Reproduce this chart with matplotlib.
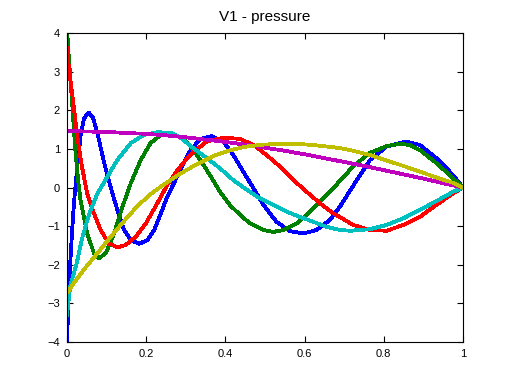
import matplotlib
matplotlib.use("Agg")
import matplotlib.pyplot as plt

# values
x_blue = [0, 0.004, 0.008, 0.013, 0.018, 0.026, 0.035, 0.043, 0.055, 0.066, 0.077, 0.094,
          0.110, 0.127, 0.144, 0.161, 0.182, 0.203, 0.220, 0.237, 0.253, 0.270, 0.285,
          0.311, 0.336, 0.365, 0.395, 0.420, 0.445, 0.471, 0.496, 0.529, 0.563, 0.597,
          0.630, 0.664, 0.689, 0.723, 0.765, 0.807, 0.857, 0.891, 0.933, 0.975, 1.0]
y_blue = [-3.95, -2.9, -2.0, -1.1, -0.35, 0.54, 1.40, 1.79, 1.94, 1.80, 1.40, 0.63,
          0.02, -0.58, -1.10, -1.36, -1.46, -1.36, -1.10, -0.67, -0.24, 0.11, 0.45,
          0.95, 1.25, 1.33, 1.19, 0.84, 0.41, -0.02, -0.45, -0.89, -1.13, -1.19,
          -1.10, -0.84, -0.50, 0.05, 0.71, 1.06, 1.19, 1.10, 0.76, 0.32, 0.0]

x_green = [0, 0.005, 0.013, 0.021, 0.029, 0.034, 0.051, 0.068, 0.081, 0.098, 0.119, 0.140,
           0.161, 0.186, 0.211, 0.237, 0.262, 0.295, 0.311, 0.336, 0.361, 0.386, 0.411,
           0.437, 0.462, 0.496, 0.521, 0.546, 0.580, 0.614, 0.647, 0.664, 0.681, 0.723,
           0.765, 0.807, 0.841, 0.866, 0.891, 0.933, 0.975, 1.0]
y_green = [4.1, 3.3, 2.18, 0.97, 0.1, -0.32, -1.19, -1.70, -1.83, -1.70, -1.19, -0.50,
           0.11, 0.71, 1.15, 1.36, 1.40, 1.27, 1.08, 0.72, 0.32, -0.11, -0.45,
           -0.71, -0.93, -1.10, -1.15, -1.10, -0.93, -0.63, -0.28, -0.10, 0.08, 0.55,
           0.90, 1.07, 1.13, 1.10, 0.97, 0.63, 0.24, 0.0]

x_red = [0, 0.007, 0.015, 0.025, 0.036, 0.051, 0.068, 0.085, 0.106, 0.127, 0.148, 0.174,
         0.199, 0.228, 0.253, 0.279, 0.304, 0.321, 0.353, 0.395, 0.437, 0.471, 0.504,
         0.538, 0.572, 0.605, 0.639, 0.673, 0.723, 0.765, 0.807, 0.849, 0.891, 0.933,
         0.975, 1.0]
y_red = [3.6, 2.9, 2.27, 1.40, 0.63, -0.15, -0.67, -1.10, -1.45, -1.55, -1.49, -1.27,
         -0.93, -0.41, 0.06, 0.45, 0.76, 0.93, 1.19, 1.29, 1.26, 1.10, 0.84,
         0.54, 0.19, -0.11, -0.41, -0.67, -0.97, -1.10, -1.12, -0.97, -0.76, -0.45,
         -0.15, 0.0]

x_cyan = [0, 0.008, 0.024, 0.038, 0.055, 0.077, 0.102, 0.127, 0.161, 0.194, 0.228, 0.262,
          0.285, 0.319, 0.353, 0.386, 0.420, 0.454, 0.487, 0.521, 0.555, 0.588, 0.622,
          0.656, 0.689, 0.715, 0.765, 0.807, 0.849, 0.891, 0.933, 0.975, 1.0]
y_cyan = [-3.3, -2.55, -1.98, -1.32, -0.72, -0.15, 0.28, 0.71, 1.15, 1.36, 1.43, 1.42,
          1.30, 1.02, 0.76, 0.50, 0.19, -0.06, -0.28, -0.45, -0.63, -0.76, -0.89,
          -1.02, -1.10, -1.12, -1.08, -0.97, -0.80, -0.58, -0.35, -0.11, 0.0]

x_mag = [0, 0.05, 0.1, 0.15, 0.2, 0.25, 0.3, 0.35, 0.4, 0.45, 0.5, 0.55, 0.6, 0.65, 0.7,
         0.75, 0.8, 0.85, 0.9, 0.95, 1.0]
y_mag = [1.46, 1.45, 1.44, 1.41, 1.39, 1.35, 1.30, 1.24, 1.18, 1.11, 1.03, 0.95, 0.86,
         0.76, 0.66, 0.56, 0.45, 0.34, 0.23, 0.11, 0.0]

x_yel = [0, 0.012, 0.025, 0.043, 0.077, 0.110, 0.144, 0.177, 0.211, 0.245, 0.285, 0.325,
         0.370, 0.410, 0.453, 0.495, 0.540, 0.580, 0.622, 0.690, 0.723, 0.765, 0.807,
         0.849, 0.891, 0.933, 0.975, 1.0]
y_yel = [-2.73, -2.55, -2.37, -2.12, -1.70, -1.28, -0.87, -0.49, -0.17, 0.08, 0.35, 0.59,
         0.82, 0.96, 1.06, 1.11, 1.13, 1.13, 1.10, 1.02, 0.95, 0.84, 0.70,
         0.56, 0.41, 0.26, 0.12, 0.0]

plt.rcParams['font.family'] = ['Liberation Sans', 'DejaVu Sans']

fig = plt.figure(figsize=(5.12, 3.84), dpi=100)
ax = fig.add_axes([67/512, 42/384, 396/512, 309/384])

lw = 2.0
ax.plot(x_blue, y_blue, color=(0, 0, 1), lw=lw, antialiased=False)
ax.plot(x_green, y_green, color=(0, 0.5, 0), lw=lw, antialiased=False)
ax.plot(x_red, y_red, color=(1, 0, 0), lw=lw, antialiased=False)
ax.plot(x_cyan, y_cyan, color=(0, 0.75, 0.75), lw=lw, antialiased=False)
ax.plot(x_mag, y_mag, color=(0.75, 0, 0.75), lw=lw, antialiased=False)
ax.plot(x_yel, y_yel, color=(0.75, 0.75, 0), lw=lw, antialiased=False)

ax.set_xlim(0, 1)
ax.set_ylim(-4, 4)
ax.set_xticks([0, 0.2, 0.4, 0.6, 0.8, 1])
ax.set_xticklabels(['0', '0.2', '0.4', '0.6', '0.8', '1'])
ax.set_yticks(range(-4, 5))
ax.tick_params(direction='in', length=4, width=0.8, top=True, right=True,
               labelsize=8, pad=5)
ax.set_title("V1 - pressure", fontsize=11, pad=9)

fig.savefig("out.png", dpi=100)
